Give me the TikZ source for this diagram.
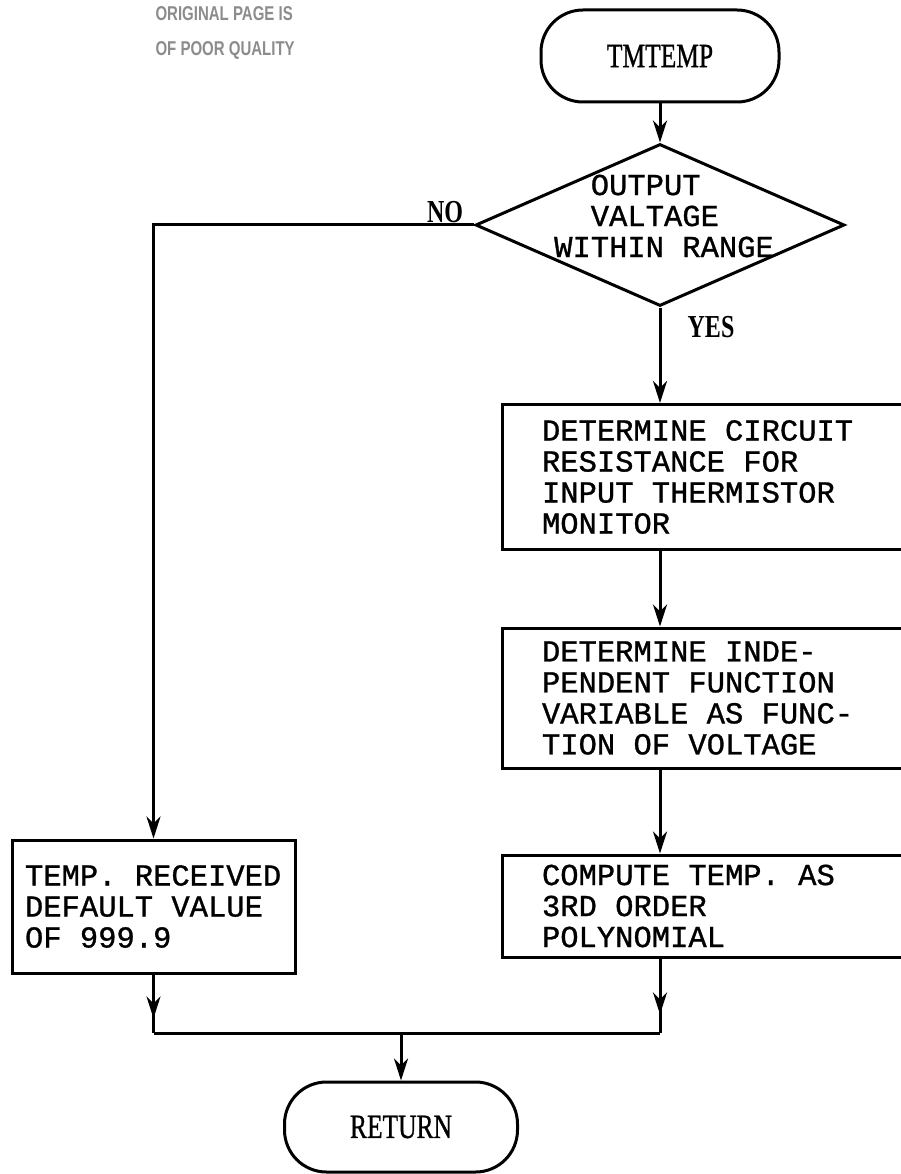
\documentclass[tikz,border=0pt]{standalone}
\usepackage{fontspec}
\usepackage{graphicx}
\setmainfont{Liberation Serif}
\newfontfamily\boxfont{Liberation Mono}[FakeBold=1]
\newfontfamily\termfont{Liberation Serif}[FakeBold=1]
\newfontfamily\stampfont{Liberation Sans}
\usetikzlibrary{positioning, arrows.meta, shapes.geometric, decorations.markings, calc}
\newcommand{\condensed}[1]{\scalebox{0.75}[1]{#1}}
\newcommand{\monotext}{\boxfont\fontsize{30.5}{31}\selectfont\frenchspacing}

\begin{document}
\begin{tikzpicture}[x=1pt, y=-1pt]
	% 定义样式
	\tikzset{
		terminal/.style={
			rectangle, rounded corners=42pt, draw, line width=3pt,
			minimum width=238pt, minimum height=92pt, inner sep=0pt,
			font=\termfont\fontsize{34}{36}\selectfont
		},
		decision/.style={
			diamond, draw, line width=3pt,
			minimum width=369pt, minimum height=162pt, inner sep=0pt
		},
		process/.style={
			rectangle, draw, line width=3pt, inner xsep=40pt, inner ysep=0pt,
			align=flush left, font=\monotext
		},
		branch/.style={font=\bfseries\fontsize{32}{34}\selectfont},
		flow/.style={line width=3pt, -{Stealth[length=22pt, width=14pt, inset=7pt]}},
		mid arrow/.style={
			line width=3pt,
			decoration={
				markings,
				mark=at position 0.75 with {\arrow{Stealth[length=22pt, width=14pt, inset=7pt]}}
			},
			postaction={decorate}
		}
	}
	
	\useasboundingbox (0,0) rectangle (901,1174);
	
	% 左上角印章
	\node[font=\stampfont\bfseries\fontsize{20}{22}\selectfont, text=black!45, anchor=west] (stampa) at (152,14) {\condensed{ORIGINAL PAGE IS}};
	\node[font=\stampfont\bfseries\fontsize{20}{22}\selectfont, text=black!45, anchor=west] (stampb) at (152,50) {\condensed{OF POOR QUALITY}};
	
	% 起点和判断
	\node[terminal] (start) at (660,56) {\condensed{TMTEMP}};
	\node[decision] (test) at (660,225) {};
	\node[font=\monotext, align=flush left] (testtxt) at (664,216) {\phantom{00}OUTPUT\\\phantom{00}VALTAGE\\WITHIN RANGE};
	\node[branch] (no) at (445,212) {\condensed{NO}};
	\node[branch] (yes) at (711,327) {\condensed{YES}};
	
	% 右侧处理框
	\node[process, text width=348pt, minimum height=145pt] (resist) at (716,477) {DETERMINE CIRCUIT\\RESISTANCE FOR\\INPUT THERMISTOR\\MONITOR};
	\node[process, text width=348pt, minimum height=140pt] (indep) at (716,698) {DETERMINE INDE-\\PENDENT FUNCTION\\VARIABLE AS FUNC-\\TION OF VOLTAGE};
	\node[process, text width=348pt, minimum height=102pt] (poly) at (716,906) {COMPUTE TEMP. AS\\3RD ORDER\\POLYNOMIAL};
	
	% 左侧默认值
	\node[process, text width=257pt, inner xsep=13pt, minimum height=133pt] (default) at (153.5,906.5) {TEMP. RECEIVED\\DEFAULT VALUE\\OF 999.9};
	
	% 终点
	\node[terminal, minimum width=233pt, minimum height=90pt] (ret) at (401,1127) {\condensed{RETURN}};
	\coordinate (join) at (401,1033);
	
	% 连线
	\draw[flow] (start) -- (test);
	\draw[flow] (test.south) -- (test.south |- resist.north);
	\draw[flow] (resist.south -| test.south) -- (test.south |- indep.north);
	\draw[flow] (indep.south -| test.south) -- (test.south |- poly.north);
	\draw[flow] (test.west) -| (default.north);
	
	% 汇合
	\draw[mid arrow] (default.south) -- (default.south |- join);
	\draw[mid arrow] (poly.south -| test.south) -- (test.south |- join);
	\draw[line width=3pt] (default.south |- join) -- (test.south |- join);
	\draw[flow] (join) -- (ret);
\end{tikzpicture}
\end{document}
